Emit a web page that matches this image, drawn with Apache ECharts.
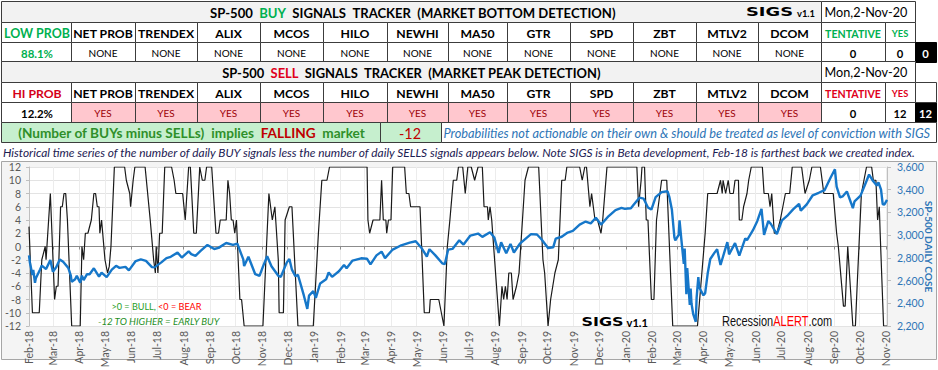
<!DOCTYPE html>
<html><head><meta charset="utf-8">
<script src="https://cdn.jsdelivr.net/npm/echarts@6/dist/echarts.min.js"></script>
<style>html,body{margin:0;padding:0;background:#fff}#c{width:938px;height:370px}</style>
</head><body><div id="c"></div>
<script>
// ---------------- DATA ----------------
const monthLabels = ['Feb-18','Mar-18','Apr-18','May-18','Jun-18','Jul-18','Aug-18','Sep-18','Oct-18','Nov-18','Dec-18',
 'Jan-19','Feb-19','Mar-19','Apr-19','May-19','Jun-19','Jul-19','Aug-19','Sep-19','Oct-19','Nov-19','Dec-19',
 'Jan-20','Feb-20','Mar-20','Apr-20','May-20','Jun-20','Jul-20','Aug-20','Sep-20','Oct-20','Nov-20'];
const axisStart = '2018-02-01';
const axisEnd = '2020-11-02';
const leftTicks = [-12, 12, 2];
const rightTicks = [2200, 3600, 200];

// net signal (BUYs minus SELLs) breakpoints
const signalDates = [
'2018-02-01','2018-02-05','2018-02-13','2018-02-16','2018-02-20','2018-02-21','2018-02-22','2018-02-26',
'2018-03-03','2018-03-05','2018-03-07','2018-03-10','2018-03-12','2018-03-14','2018-03-16','2018-03-18','2018-03-23',
'2018-04-02','2018-04-04','2018-04-06','2018-04-08','2018-04-11','2018-04-15','2018-04-18','2018-04-20','2018-04-22','2018-04-24','2018-04-25','2018-04-27',
'2018-05-01','2018-05-04','2018-05-06','2018-05-08','2018-05-12','2018-05-24','2018-05-26','2018-05-30','2018-05-31',
'2018-06-03','2018-06-05','2018-06-17','2018-06-23','2018-06-27','2018-06-29','2018-06-30',
'2018-07-02','2018-07-04','2018-07-07','2018-07-10','2018-07-18','2018-07-21','2018-07-23','2018-07-31',
'2018-08-03','2018-08-07','2018-08-09','2018-08-13','2018-08-16','2018-08-20','2018-08-23','2018-08-26','2018-08-28',
'2018-09-03','2018-09-08','2018-09-11','2018-09-13','2018-09-20','2018-09-22','2018-09-24','2018-09-26','2018-09-28','2018-09-30',
'2018-10-02','2018-10-06','2018-10-08','2018-10-11',
'2018-11-02','2018-11-09','2018-11-11','2018-11-13','2018-11-16','2018-11-17','2018-11-20','2018-11-21','2018-11-26','2018-11-28',
'2018-12-03','2018-12-06','2018-12-13','2018-12-31',
'2019-01-06','2019-01-10','2019-01-16','2019-01-19',
'2019-03-04','2019-03-05','2019-03-07','2019-03-11','2019-03-19','2019-03-21','2019-03-23','2019-03-26','2019-03-27','2019-03-29',
'2019-04-01','2019-04-03','2019-04-17','2019-04-19','2019-04-22','2019-04-24',
'2019-05-05','2019-05-10','2019-05-16','2019-05-17','2019-05-27','2019-05-30',
'2019-06-02','2019-06-06','2019-06-09','2019-06-13','2019-06-17','2019-06-19','2019-06-24','2019-06-27','2019-06-30',
'2019-07-04','2019-07-08','2019-07-12','2019-07-17','2019-07-19','2019-07-23','2019-07-24','2019-07-26','2019-07-28',
'2019-08-06','2019-08-09','2019-08-11','2019-08-13','2019-08-15','2019-08-17','2019-08-20','2019-08-22','2019-08-26','2019-08-29','2019-08-31',
'2019-09-02','2019-09-05','2019-09-09','2019-09-21','2019-09-26','2019-09-28',
'2019-10-02','2019-10-05','2019-10-10','2019-10-14','2019-10-18','2019-10-22','2019-10-24',
'2019-11-08','2019-11-11','2019-11-14','2019-11-16','2019-11-20','2019-11-22','2019-11-26','2019-11-29',
'2019-12-03','2019-12-05','2019-12-10',
'2020-01-14','2020-01-16','2020-01-19','2020-01-20','2020-01-23','2020-01-25','2020-01-27','2020-01-31',
'2020-02-03','2020-02-06','2020-02-12','2020-02-18','2020-02-25',
'2020-03-25',
'2020-04-03','2020-04-06','2020-04-17','2020-04-21','2020-04-23','2020-04-24','2020-04-27','2020-04-30',
'2020-05-02','2020-05-06','2020-05-08','2020-05-12','2020-05-13','2020-05-16','2020-05-18','2020-05-22','2020-05-24','2020-05-27',
'2020-06-09','2020-06-11','2020-06-16','2020-06-18','2020-06-20','2020-06-23','2020-06-26','2020-06-30',
'2020-07-06','2020-07-11','2020-07-14','2020-07-25','2020-07-27','2020-07-29',
'2020-08-03','2020-08-06','2020-08-16','2020-08-18','2020-08-20','2020-08-31',
'2020-09-04','2020-09-06','2020-09-12','2020-09-14','2020-09-17','2020-09-23','2020-09-26','2020-09-28',
'2020-10-03','2020-10-09','2020-10-15','2020-10-17','2020-10-20','2020-10-22','2020-10-24','2020-10-25','2020-10-29',
'2020-11-02'];
const signalValues = [
3,-10,-10,-2,0,-2,0,8,
-8,-6,-6,6,6,8,8,4,-12,
-12,0,-2,2,2,4,8,8,6,6,2,4,
-2,-4,-3,0,12,12,10,8,6,
10,12,12,4,-2,-4,0,
-4,2,2,12,12,10,8,8,
4,12,12,2,2,12,10,10,12,
12,2,2,4,4,10,8,4,4,2,
4,-8,-8,-12,
-12,8,6,4,6,4,-2,-10,-10,4,
6,6,-12,-12,
2,10,10,12,
12,4,2,4,4,10,4,4,2,4,
4,12,12,8,8,6,
6,-10,-10,-8,-8,-10,
-12,0,4,10,10,12,12,8,12,
12,10,12,12,6,6,4,6,4,
-12,-6,-8,-6,-8,-4,-4,-8,-6,-4,0,
4,10,12,12,-2,-4,
-12,-8,-4,-2,10,10,12,
12,10,12,12,6,8,4,4,
2,4,12,
12,6,10,12,12,4,4,-8,
-8,4,10,10,-12,
-12,
2,8,8,10,8,10,8,10,
8,8,10,10,4,4,6,8,10,12,
12,8,8,6,8,2,2,4,
8,8,12,12,10,8,
10,12,12,10,8,8,
2,0,-9,-9,0,-12,-12,-6,
8,12,12,10,10,4,6,2,-12,
-12];

// SP-500 daily close (sampled)
const spxDates = [
'2018-02-01','2018-02-02','2018-02-05','2018-02-06','2018-02-08','2018-02-09','2018-02-14','2018-02-16','2018-02-21','2018-02-26',
'2018-03-01','2018-03-05','2018-03-09','2018-03-13','2018-03-19','2018-03-22','2018-03-23','2018-03-27','2018-03-29',
'2018-04-02','2018-04-04','2018-04-06','2018-04-10','2018-04-13','2018-04-18','2018-04-24','2018-04-27',
'2018-05-03','2018-05-09','2018-05-14','2018-05-18','2018-05-25','2018-05-29',
'2018-06-06','2018-06-12','2018-06-18','2018-06-25','2018-06-28',
'2018-07-06','2018-07-12','2018-07-17','2018-07-25','2018-07-30',
'2018-08-07','2018-08-10','2018-08-15','2018-08-21','2018-08-29',
'2018-09-06','2018-09-11','2018-09-20','2018-09-28',
'2018-10-03','2018-10-10','2018-10-11','2018-10-16','2018-10-24','2018-10-29',
'2018-11-02','2018-11-07','2018-11-12','2018-11-20','2018-11-23','2018-11-30',
'2018-12-03','2018-12-06','2018-12-10','2018-12-13','2018-12-17','2018-12-20','2018-12-24','2018-12-26','2018-12-31',
'2019-01-03','2019-01-08','2019-01-15','2019-01-18','2019-01-22','2019-01-30',
'2019-02-05','2019-02-08','2019-02-15','2019-02-25',
'2019-03-04','2019-03-08','2019-03-15','2019-03-21','2019-03-25',
'2019-04-03','2019-04-12','2019-04-23','2019-04-30',
'2019-05-07','2019-05-13','2019-05-16','2019-05-23','2019-05-31',
'2019-06-03','2019-06-07','2019-06-12','2019-06-20','2019-06-25',
'2019-07-03','2019-07-12','2019-07-17','2019-07-26','2019-07-31',
'2019-08-05','2019-08-08','2019-08-14','2019-08-19','2019-08-23','2019-08-30',
'2019-09-12','2019-09-19','2019-09-24',
'2019-10-02','2019-10-08','2019-10-11','2019-10-18','2019-10-25','2019-10-31',
'2019-11-08','2019-11-15','2019-11-21','2019-11-27',
'2019-12-03','2019-12-12','2019-12-20','2019-12-27','2019-12-31',
'2020-01-03','2020-01-07','2020-01-10','2020-01-17','2020-01-22','2020-01-27','2020-01-31',
'2020-02-05','2020-02-12','2020-02-19','2020-02-21','2020-02-24','2020-02-27','2020-02-28',
'2020-03-03','2020-03-04','2020-03-06','2020-03-09','2020-03-10','2020-03-12','2020-03-13','2020-03-16','2020-03-17','2020-03-18','2020-03-20','2020-03-23','2020-03-24','2020-03-26','2020-03-27',
'2020-04-01','2020-04-03','2020-04-06','2020-04-09','2020-04-14','2020-04-17','2020-04-21','2020-04-29',
'2020-05-01','2020-05-08','2020-05-13','2020-05-15','2020-05-20','2020-05-22','2020-05-29',
'2020-06-03','2020-06-08','2020-06-11','2020-06-16','2020-06-19','2020-06-26',
'2020-07-02','2020-07-08','2020-07-15','2020-07-22','2020-07-24','2020-07-31',
'2020-08-07','2020-08-14','2020-08-21','2020-08-28',
'2020-09-02','2020-09-04','2020-09-08','2020-09-11','2020-09-16','2020-09-21','2020-09-23','2020-09-25',
'2020-10-02','2020-10-09','2020-10-12','2020-10-16','2020-10-21','2020-10-23','2020-10-26','2020-10-28','2020-10-30',
'2020-11-02'];
const spxValues = [
2822,2762,2649,2695,2581,2620,2698,2732,2701,2780,
2678,2720,2786,2765,2712,2643,2588,2612,2641,
2582,2644,2604,2656,2656,2708,2634,2670,
2630,2697,2730,2712,2721,2690,
2772,2786,2774,2718,2716,
2760,2798,2809,2846,2803,
2858,2833,2818,2862,2914,
2878,2888,2931,2914,
2925,2786,2728,2810,2656,2641,
2723,2814,2726,2642,2633,2760,
2790,2696,2638,2651,2546,2467,2351,2468,2507,
2448,2574,2611,2671,2633,2682,
2738,2708,2776,2796,
2792,2743,2822,2855,2798,
2873,2907,2934,2946,
2884,2812,2876,2822,2752,
2744,2873,2879,2954,2917,
2996,3014,2985,3025,2980,
2844,2938,2840,2923,2847,2926,
3009,3006,2966,
2887,2893,2970,2986,3023,3037,
3093,3120,3104,3153,
3093,3168,3221,3240,3231,
3235,3237,3265,3330,3321,3244,3225,
3334,3379,3386,3338,3226,2979,2954,
3003,3130,2972,2747,2882,2481,2711,2386,2529,2398,2305,2237,2447,2630,2541,
2470,2489,2664,2790,2846,2875,2737,2939,
2831,2930,2820,2864,2972,2955,3044,
3123,3232,3002,3125,3098,3009,
3130,3169,3227,3276,3216,3271,
3351,3373,3397,3508,
3580,3427,3332,3341,3385,3281,3237,3298,
3348,3477,3534,3484,3436,3465,3400,3271,3270,
3310];

// tracker table contents
const indicators = ['NET PROB','TRENDEX','ALIX','MCOS','HILO','NEWHI','MA50','GTR','SPD','ZBT','MTLV2','DCOM'];
const buyStatus  = ['NONE','NONE','NONE','NONE','NONE','NONE','NONE','NONE','NONE','NONE','NONE','NONE'];
const sellStatus = ['YES','YES','YES','YES','YES','YES','YES','YES','YES','YES','YES','YES'];
const buyProb = '88.1%';
const sellProb = '12.2%';
const buyCounts = [0, 0, 0];     // tentative, yes, total
const sellCounts = [0, 12, 12];
const netSignal = '-12';
const reportDate = 'Mon,2-Nov-20';

// ---------------- HELPERS ----------------
const FONT = 'Lato';
const GREEN = '#00b050', RED = '#e0001b', DKGREEN = '#2f8f2a';
const mctx = document.createElement('canvas').getContext('2d');
function measure(t, size, weight, style, fam) {
  mctx.font = (style||'normal') + ' ' + (weight||'normal') + ' ' + size + 'px ' + (fam||FONT);
  return mctx.measureText(t).width;
}
function fit(t, width, weight, style, fam) { return +(100 * width / measure(t, 100, weight, style, fam)).toFixed(2); }
const G = [];
function cell(x0, y0, x1, y1, fill, stroke) {
  G.push({type:'rect', silent:true, z:1, shape:{x:x0+0.5, y:y0+0.5, width:x1-x0, height:y1-y0},
    style:{fill:fill||'#fff', stroke:stroke===undefined?'#3c3c3c':stroke, lineWidth:1}});
}
function txt(x, y, t, o) {
  G.push({type:'text', silent:true, z:10, x:x, y:y, scaleX:o.sx||1, rotation:o.rot||0, style:{text:t, fill:o.color||'#000', fontFamily:o.fam||FONT,
    fontSize:o.size, fontWeight:o.weight||'normal', fontStyle:o.style||'normal', align:o.align||'center', verticalAlign:'middle'}});
}
function stretched(x, y, t, width, o) {
  const w = measure(t, o.size, o.weight, o.style, o.fam);
  txt(x, y, t, Object.assign({}, o, {align:'left', sx: width / w}));
}
function run(parts, x, y, width, o, gapSp, anchor) {
  const probe = parts.map(p => p.t).join(' '.repeat(gapSp));
  const size = o.size || fit(probe, width, o.weight, o.style, o.fam);
  const sx = o.size ? width / measure(probe, size, o.weight, o.style, o.fam) : 1;
  const gap = measure(' ', size, o.weight, o.style, o.fam) * gapSp * sx;
  const ws = parts.map(p => measure(p.t, size, o.weight, o.style, o.fam) * sx);
  const total = ws.reduce((a,b)=>a+b,0) + gap*(parts.length-1);
  let cx = anchor === 'left' ? x : x - total/2;
  parts.forEach((p,i) => { txt(cx, y, p.t, Object.assign({}, o, {size:size, color:p.c, align:'left', sx:sx})); cx += ws[i] + gap; });
}

// ---------------- TABLE ----------------
const colX = [1, 71, 135, 197, 260, 323, 387, 448, 507, 570, 633, 696, 758, 821, 885, 915];
const hdrSize = fit('NET PROB', 60, 'bold');
const valSize = fit('NONE', 29);
const LOGO = "'DejaVu Sans', sans-serif";
function trackerBlock(y0, isBuy) {
  const yT = y0, yH = y0 + 21, yV = y0 + 41, yE = y0 + 61;
  cell(1, yT, 821, yH, '#f2f2f2');
  cell(821, yT, 915, yH, '#fff');
  run(isBuy ? [{t:'SP-500',c:'#000'},{t:'BUY',c:GREEN},{t:'SIGNALS',c:'#000'},{t:'TRACKER',c:'#000'},{t:'(MARKET BOTTOM DETECTION)',c:'#000'}]
            : [{t:'SP-500',c:'#000'},{t:'SELL',c:RED},{t:'SIGNALS',c:'#000'},{t:'TRACKER',c:'#000'},{t:'(MARKET PEAK DETECTION)',c:'#000'}],
      isBuy ? 413 : 411.5, yT + 12, isBuy ? 406 : 379, {weight:'bold'}, 2);
  txt(866, yT + 11.5, reportDate, {size: fit(reportDate, 83)});
  for (let i = 0; i < 15; i++) cell(colX[i], yH, colX[i+1], yV, '#fff');
  const c0 = (colX[0]+colX[1])/2;
  txt(c0 + 1, yH + 11, isBuy ? 'LOW PROB' : 'HI PROB', {size: isBuy ? fit('LOW PROB', 66, 'bold') : hdrSize, weight:'bold', color: isBuy ? GREEN : '#d40018'});
  indicators.forEach((h, i) => txt((colX[i+1]+colX[i+2])/2, yH + 11, h, {size:hdrSize, weight:'bold'}));
  const tc = isBuy ? GREEN : RED;
  txt((colX[13]+colX[14])/2, yH + 11, 'TENTATIVE', {size: fit('TENTATIVE', 56, 'bold'), weight:'bold', color: tc});
  txt((colX[14]+colX[15])/2, yH + 11, 'YES', {size: fit('YES', 16.5, 'bold'), weight:'bold', color: tc});
  cell(colX[0], yV, colX[1], yE, '#fff');
  txt(c0 + 1, yV + 11, isBuy ? buyProb : sellProb, {size: fit('88.1%', 32, 'bold'), weight:'bold', color: isBuy ? GREEN : '#000'});
  const st = isBuy ? buyStatus : sellStatus;
  st.forEach((s, i) => {
    cell(colX[i+1], yV, colX[i+2], yE, isBuy ? '#fff' : '#ffc7ce');
    txt((colX[i+1]+colX[i+2])/2, yV + 11, s, {size: valSize, color: isBuy ? '#000' : '#9c0006'});
  });
  const cnt = isBuy ? buyCounts : sellCounts;
  cell(colX[13], yV, colX[14], yE, '#fff');
  cell(colX[14], yV, colX[15], yE, '#fff');
  const numSize = fit('12', 13, 'bold');
  txt((colX[13]+colX[14])/2, yV + 11, String(cnt[0]), {size:numSize, weight:'bold'});
  txt((colX[14]+colX[15])/2, yV + 11, String(cnt[1]), {size:numSize, weight:'bold'});
  cell(915, yV, 936, yE, '#000', '#000');
  txt(925.5, yV + 11, String(cnt[2]), {size:numSize, weight:'bold', color:'#fff'});
}
trackerBlock(1, true);
trackerBlock(61, false);
cell(915, 82, 936, 102, '#fff');
cell(1, 122, 380, 142, '#c6efce');
cell(380, 122, 441, 142, '#c6efce');
cell(441, 122, 936, 142, '#fff');
run([{t:'(Number of BUYs minus SELLs)',c:DKGREEN},{t:'implies',c:DKGREEN},{t:'FALLING',c:'#c00000'},{t:'market',c:DKGREEN}],
    191.5, 133, 347, {weight:'bold'}, 2);
txt(410, 133, netSignal, {size: fit('-12', 22), color:'#c00000'});
const probText = 'Probabilities not actionable on their own & should be treated as level of conviction with SIGS';
txt(443.5, 133, probText, {size: fit(probText, 488, 'normal', 'italic'), style:'italic', color:'#2e75b6', align:'left'});
const descText = 'Historical time series of the number of daily BUY signals less the number of daily SELLS signals appears below. Note SIGS is in Beta development, Feb-18 is farthest back we created index.';
txt(3, 152.5, descText, {size: fit(descText, 915, 'normal', 'italic'), style:'italic', color:'#1c2052', align:'left'});
stretched(746, 12, 'SIGS', 47, {size: 13, weight:'bold', fam:LOGO});
txt(797, 13, 'v1.1', {size: fit('v1.1', 18, 'bold'), weight:'bold', align:'left'});

G.push({type:'rect', silent:true, z:-10, shape:{x:1.5, y:161.5, width:935, height:198},
  style:{fill:'#f4f4f4', stroke:'#a6a6a6', lineWidth:1}});
run([{t:'>0 = BULL,',c:'#1f9e1f'},{t:'<0 = BEAR',c:'#ff0000'}], 111.5, 306, 90, {}, 1, 'left');
const earlyTxt = '-12 TO HIGHER = EARLY BUY';
txt(98, 320.5, earlyTxt, {size: fit(earlyTxt, 122, 'normal', 'italic'), style:'italic', color:'#1f8f1f', align:'left'});
stretched(581.5, 321.5, 'SIGS', 42, {size: 13, weight:'bold', fam:LOGO});
txt(626.5, 322.5, 'v1.1', {size: fit('v1.1', 21.5, 'bold'), weight:'bold', align:'left'});
const RA = "'Liberation Sans', sans-serif";
run([{t:'Recession',c:'#111'},{t:'ALERT',c:'#ff0000'},{t:'.com',c:'#111'}], 722, 320.5, 109, {fam:RA, size:15.5}, 0, 'left');

// ---------------- CHART ----------------
const monthIdx = {Jan:0,Feb:1,Mar:2,Apr:3,May:4,Jun:5,Jul:6,Aug:7,Sep:8,Oct:9,Nov:10,Dec:11};
const monthTs = monthLabels.map(l => Date.UTC(2000 + (+l.slice(4)), monthIdx[l.slice(0,3)], 1));
const labelOf = {}; monthTs.forEach((t,i) => labelOf[t] = monthLabels[i]);
function ts(s) { const p = s.split('-'); return Date.UTC(+p[0], +p[1]-1, +p[2]); }

const axisFont = 10.5;
const rightName = 'SP-500 DAILY COSE';
const option = {
  animation: false,
  backgroundColor: '#fff',
  textStyle: {fontFamily: FONT},
  grid: {left: 29, right: 51, top: 167, bottom: 44, show: true, backgroundColor: '#fff', borderWidth: 0, containLabel: false, outerBoundsMode: 'none'},
  xAxis: [{
    type: 'value', min: ts(axisStart), max: ts(axisEnd),
    axisLine: {show: false, onZero: false},
    axisTick: {show: false, customValues: monthTs},
    axisLabel: {customValues: monthTs, rotate: 90, margin: 5, color: '#595959', fontSize: axisFont, fontFamily: FONT,
      formatter: v => labelOf[v] || '', hideOverlap: false, showMinLabel: true, showMaxLabel: true},
    splitLine: {show: true, lineStyle: {color: '#ececec', width: 1}}
  }, {
    type: 'value', min: ts(axisStart), max: ts(axisEnd), position: 'bottom',
    axisLine: {show: true, onZero: true, onZeroAxisIndex: 0, lineStyle: {color: '#8c8c8c', width: 1}},
    axisTick: {show: true, length: 3, customValues: monthTs, lineStyle: {color: '#8c8c8c'}},
    axisLabel: {show: false},
    splitLine: {show: false}
  }],
  yAxis: [{
    type: 'value', min: leftTicks[0], max: leftTicks[1], interval: leftTicks[2], position: 'left',
    axisLine: {show: true, lineStyle: {color: '#bfbfbf'}},
    axisTick: {show: true, length: 3, lineStyle: {color: '#bfbfbf'}},
    axisLabel: {color: '#595959', fontSize: axisFont, margin: 8, fontFamily: FONT},
    splitLine: {show: true, lineStyle: {color: '#e3e3e3', width: 1}}
  }, {
    type: 'value', min: rightTicks[0], max: rightTicks[1], interval: rightTicks[2], position: 'right',
    axisLine: {show: true, lineStyle: {color: '#bfbfbf'}},
    axisTick: {show: true, length: 4, lineStyle: {color: '#bfbfbf'}},
    axisLabel: {color: '#2e75b6', fontSize: axisFont, margin: 10, fontFamily: FONT,
      formatter: v => v.toLocaleString('en-US')},
    splitLine: {show: false},
    name: rightName, nameLocation: 'middle', nameRotate: -90, nameGap: 37, nameMoveOverlap: false,
    nameTextStyle: {color: '#2e75b6', fontWeight: 'bold', fontFamily: FONT, fontSize: fit(rightName, 92, 'bold')}
  }],
  series: [{
    type: 'line', xAxisIndex: 0, yAxisIndex: 0, z: 3,
    data: signalDates.map((d, i) => [ts(d), signalValues[i]]),
    showSymbol: false, symbol: 'none',
    lineStyle: {color: '#1a1a1a', width: 1.2}
  }, {
    type: 'line', xAxisIndex: 0, yAxisIndex: 1, z: 4,
    data: spxDates.map((d, i) => [ts(d), spxValues[i]]),
    showSymbol: false, symbol: 'none',
    lineStyle: {color: '#1677c9', width: 2.4}
  }],
  graphic: {elements: G}
};
const chart = echarts.init(document.getElementById('c'), null, {renderer: 'svg', width: 938, height: 370});
chart.setOption(option);
</script>
</body></html>
